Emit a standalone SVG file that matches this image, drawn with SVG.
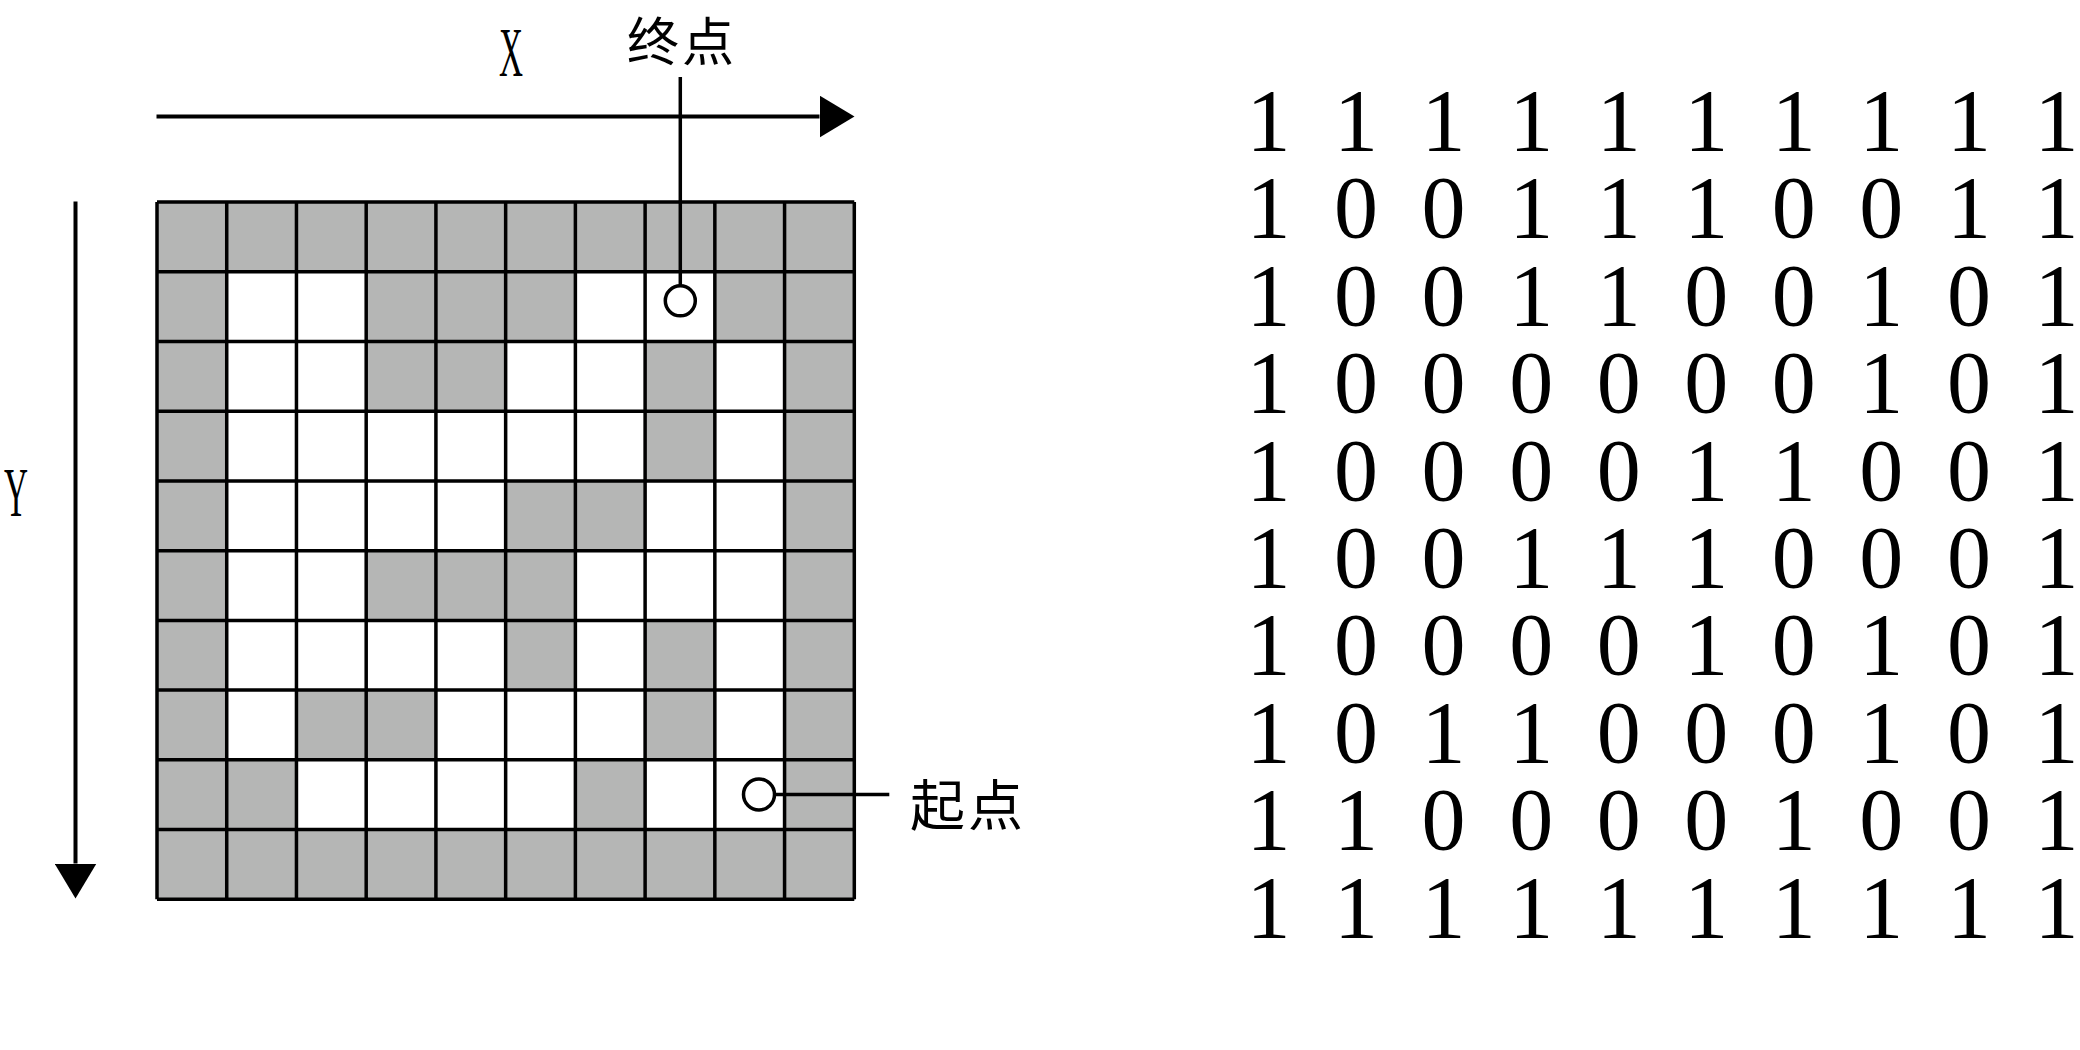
<svg xmlns="http://www.w3.org/2000/svg" width="2080" height="1050" viewBox="0 0 2080 1050">
<style>
.bg{fill:#ffffff}
.g{fill:#b5b6b5}
.grid{fill:none;stroke:#000;stroke-width:3.5}
.ax{fill:none;stroke:#000;stroke-width:4}
.ld{fill:none;stroke:#000;stroke-width:3.5}
.pt{fill:#fff;stroke:#000;stroke-width:3.5}
.lat{font-family:"Liberation Serif","Times New Roman",serif;fill:#000}
.cjk{font-family:"Noto Sans CJK SC","Noto Sans",sans-serif;fill:#000;font-size:55px;text-anchor:middle}
.num{font-family:"Liberation Serif","Times New Roman",serif;font-size:88px;fill:#000;text-anchor:middle}
</style>
<defs>
<marker id="ah" markerUnits="userSpaceOnUse" markerWidth="36" markerHeight="42" refX="0" refY="21" orient="auto" viewBox="0 0 36 42">
<path d="M0,0 L35,21 L0,42 z" fill="#000"/>
</marker>
</defs>
<rect class="bg" x="0" y="0" width="2080" height="1050"/>

<g id="maze-grid">
<rect class="g" x="157" y="202" width="697.3" height="69.73"/>
<rect class="g" x="157" y="829.57" width="697.3" height="69.73"/>
<rect class="g" x="157" y="202" width="69.73" height="697.3"/>
<rect class="g" x="784.57" y="202" width="69.73" height="697.3"/>
<rect class="g" x="366.19" y="271.73" width="209.19" height="69.73"/>
<rect class="g" x="714.84" y="271.73" width="69.73" height="69.73"/>
<rect class="g" x="366.19" y="341.46" width="139.46" height="69.73"/>
<rect class="g" x="645.11" y="341.46" width="69.73" height="69.73"/>
<rect class="g" x="645.11" y="411.19" width="69.73" height="69.73"/>
<rect class="g" x="505.65" y="480.92" width="139.46" height="69.73"/>
<rect class="g" x="366.19" y="550.65" width="209.19" height="69.73"/>
<rect class="g" x="505.65" y="620.38" width="69.73" height="69.73"/>
<rect class="g" x="645.11" y="620.38" width="69.73" height="69.73"/>
<rect class="g" x="296.46" y="690.11" width="139.46" height="69.73"/>
<rect class="g" x="645.11" y="690.11" width="69.73" height="69.73"/>
<rect class="g" x="226.73" y="759.84" width="69.73" height="69.73"/>
<rect class="g" x="575.38" y="759.84" width="69.73" height="69.73"/>
<path class="grid" d="M157,202V899.3 M226.73,202V899.3 M296.46,202V899.3 M366.19,202V899.3 M435.92,202V899.3 M505.65,202V899.3 M575.38,202V899.3 M645.11,202V899.3 M714.84,202V899.3 M784.57,202V899.3 M854.3,202V899.3 M157,202H854.3 M157,271.73H854.3 M157,341.46H854.3 M157,411.19H854.3 M157,480.92H854.3 M157,550.65H854.3 M157,620.38H854.3 M157,690.11H854.3 M157,759.84H854.3 M157,829.57H854.3 M157,899.3H854.3"/>
</g>

<g id="connectors">
<line id="axis-x" class="ax" x1="156.5" y1="116.5" x2="819.5" y2="116.5" marker-end="url(#ah)"/>
<line id="axis-y" class="ax" x1="75.5" y1="201.6" x2="75.5" y2="863.5" marker-end="url(#ah)"/>
<line id="lead-end" class="ld" x1="680.3" y1="77" x2="680.3" y2="286"/>
<line id="lead-start" class="ld" x1="774.5" y1="794.5" x2="889.3" y2="794.5"/>
</g>

<g id="label-x"><text class="lat" x="511" y="75.5" font-size="69" text-anchor="middle" textLength="24" lengthAdjust="spacingAndGlyphs">X</text></g>
<g id="label-y"><text class="lat" x="16" y="516" font-size="69" text-anchor="middle" textLength="24" lengthAdjust="spacingAndGlyphs">Y</text></g>

<g id="end-point">
<circle class="pt" cx="680.3" cy="300.8" r="15"/>
<text class="cjk" x="682" y="61" font-size="52" style="font-size:52px" letter-spacing="3">终点</text>
</g>
<g id="start-point">
<circle class="pt" cx="759" cy="794.5" r="15.5"/>
<text class="cjk" x="968" y="825" letter-spacing="3">起点</text>
</g>

<g id="matrix" class="num">
<text y="150"><tspan x="1268.5">1</tspan><tspan x="1356.05">1</tspan><tspan x="1443.6">1</tspan><tspan x="1531.15">1</tspan><tspan x="1618.7">1</tspan><tspan x="1706.25">1</tspan><tspan x="1793.8">1</tspan><tspan x="1881.35">1</tspan><tspan x="1968.9">1</tspan><tspan x="2056.45">1</tspan></text>
<text y="237.4"><tspan x="1268.5">1</tspan><tspan x="1356.05">0</tspan><tspan x="1443.6">0</tspan><tspan x="1531.15">1</tspan><tspan x="1618.7">1</tspan><tspan x="1706.25">1</tspan><tspan x="1793.8">0</tspan><tspan x="1881.35">0</tspan><tspan x="1968.9">1</tspan><tspan x="2056.45">1</tspan></text>
<text y="324.8"><tspan x="1268.5">1</tspan><tspan x="1356.05">0</tspan><tspan x="1443.6">0</tspan><tspan x="1531.15">1</tspan><tspan x="1618.7">1</tspan><tspan x="1706.25">0</tspan><tspan x="1793.8">0</tspan><tspan x="1881.35">1</tspan><tspan x="1968.9">0</tspan><tspan x="2056.45">1</tspan></text>
<text y="412.2"><tspan x="1268.5">1</tspan><tspan x="1356.05">0</tspan><tspan x="1443.6">0</tspan><tspan x="1531.15">0</tspan><tspan x="1618.7">0</tspan><tspan x="1706.25">0</tspan><tspan x="1793.8">0</tspan><tspan x="1881.35">1</tspan><tspan x="1968.9">0</tspan><tspan x="2056.45">1</tspan></text>
<text y="499.6"><tspan x="1268.5">1</tspan><tspan x="1356.05">0</tspan><tspan x="1443.6">0</tspan><tspan x="1531.15">0</tspan><tspan x="1618.7">0</tspan><tspan x="1706.25">1</tspan><tspan x="1793.8">1</tspan><tspan x="1881.35">0</tspan><tspan x="1968.9">0</tspan><tspan x="2056.45">1</tspan></text>
<text y="587"><tspan x="1268.5">1</tspan><tspan x="1356.05">0</tspan><tspan x="1443.6">0</tspan><tspan x="1531.15">1</tspan><tspan x="1618.7">1</tspan><tspan x="1706.25">1</tspan><tspan x="1793.8">0</tspan><tspan x="1881.35">0</tspan><tspan x="1968.9">0</tspan><tspan x="2056.45">1</tspan></text>
<text y="674.4"><tspan x="1268.5">1</tspan><tspan x="1356.05">0</tspan><tspan x="1443.6">0</tspan><tspan x="1531.15">0</tspan><tspan x="1618.7">0</tspan><tspan x="1706.25">1</tspan><tspan x="1793.8">0</tspan><tspan x="1881.35">1</tspan><tspan x="1968.9">0</tspan><tspan x="2056.45">1</tspan></text>
<text y="761.8"><tspan x="1268.5">1</tspan><tspan x="1356.05">0</tspan><tspan x="1443.6">1</tspan><tspan x="1531.15">1</tspan><tspan x="1618.7">0</tspan><tspan x="1706.25">0</tspan><tspan x="1793.8">0</tspan><tspan x="1881.35">1</tspan><tspan x="1968.9">0</tspan><tspan x="2056.45">1</tspan></text>
<text y="849.2"><tspan x="1268.5">1</tspan><tspan x="1356.05">1</tspan><tspan x="1443.6">0</tspan><tspan x="1531.15">0</tspan><tspan x="1618.7">0</tspan><tspan x="1706.25">0</tspan><tspan x="1793.8">1</tspan><tspan x="1881.35">0</tspan><tspan x="1968.9">0</tspan><tspan x="2056.45">1</tspan></text>
<text y="936.6"><tspan x="1268.5">1</tspan><tspan x="1356.05">1</tspan><tspan x="1443.6">1</tspan><tspan x="1531.15">1</tspan><tspan x="1618.7">1</tspan><tspan x="1706.25">1</tspan><tspan x="1793.8">1</tspan><tspan x="1881.35">1</tspan><tspan x="1968.9">1</tspan><tspan x="2056.45">1</tspan></text>
</g>
</svg>
